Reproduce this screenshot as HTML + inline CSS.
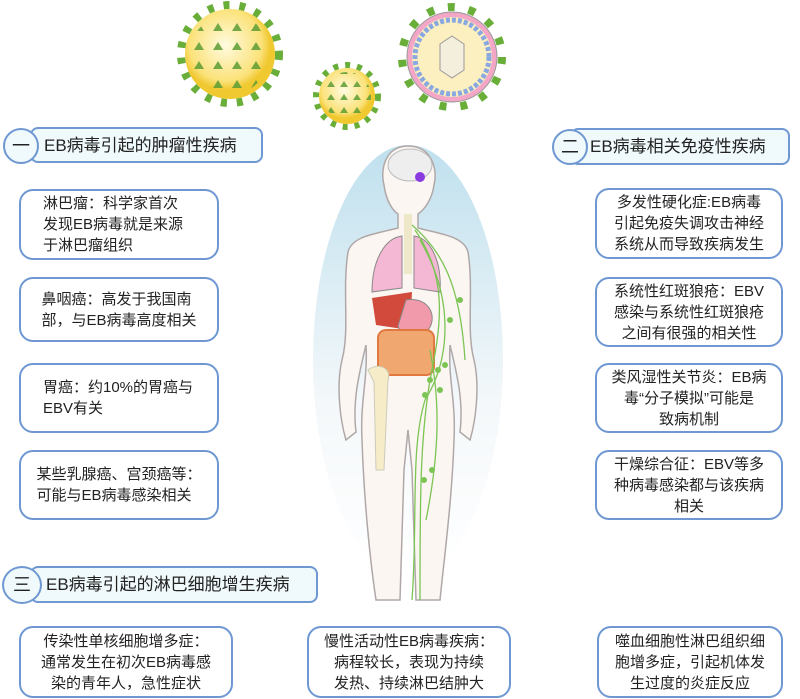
<!DOCTYPE html>
<html><head><meta charset="utf-8">
<style>
body{margin:0;width:800px;height:699px;background:#fff;position:relative;overflow:hidden;font-family:"Liberation Sans","Noto Sans CJK SC",sans-serif;color:#222}
.box{position:absolute;border:2px solid #6f98d2;border-radius:14px;background:#fff;box-sizing:border-box;display:flex;align-items:center;justify-content:center;text-align:center;font-size:15px;line-height:21px;padding:0 8px}
.hdr{position:absolute;border:2px solid #6f98d2;border-radius:8px;background:#f0f9fb;box-sizing:border-box;font-size:17px;line-height:33px;padding-left:12px}
.cir{position:absolute;border:2px solid #6f98d2;border-radius:50%;background:#f0f9fb;box-sizing:border-box;text-align:center;font-size:18px}
</style></head><body>
<svg width="800" height="699" style="position:absolute;left:0;top:0">
<defs>
<radialGradient id="yel" cx="45%" cy="40%"><stop offset="0" stop-color="#fffbe0"/><stop offset="0.8" stop-color="#fbe27a"/><stop offset="1" stop-color="#f0c830"/></radialGradient>
<pattern id="tri" width="19" height="19" patternUnits="userSpaceOnUse"><path d="M9 4 L14 12 L4 12Z" fill="#5c9c34"/></pattern>
<pattern id="tri2" width="13" height="13" patternUnits="userSpaceOnUse"><path d="M6 3 L10 9 L2 9Z" fill="#5c9c34"/></pattern>
<linearGradient id="glow" x1="0" y1="0" x2="0" y2="1"><stop offset="0" stop-color="#bfe0ee"/><stop offset="0.6" stop-color="#f4f8fa"/><stop offset="1" stop-color="#fff"/></linearGradient>
</defs>
<circle cx="230" cy="54" r="49" fill="none" stroke="#6aae3a" stroke-width="8" stroke-dasharray="6 10"/>
<circle cx="230" cy="54" r="45" fill="url(#yel)"/>
<circle cx="230" cy="54" r="40" fill="url(#tri)" opacity="0.85"/>
<circle cx="347" cy="96" r="31" fill="none" stroke="#6aae3a" stroke-width="6" stroke-dasharray="5 7"/>
<circle cx="347" cy="96" r="28" fill="url(#yel)"/>
<circle cx="347" cy="96" r="24" fill="url(#tri2)" opacity="0.85"/>
<circle cx="452" cy="57" r="50" fill="none" stroke="#6aae3a" stroke-width="8" stroke-dasharray="7 14"/>
<circle cx="452" cy="57" r="45" fill="#f4a6c6" stroke="#999" stroke-width="1"/>
<circle cx="452" cy="57" r="40" fill="#fdf0c0"/>
<circle cx="452" cy="57" r="37" fill="none" stroke="#8aa8e0" stroke-width="5" stroke-dasharray="4 2"/>
<path d="M452 36 L464 44 L464 70 L452 78 L440 70 L440 44Z" fill="#f4efdc" stroke="#999"/>
<ellipse cx="408" cy="360" rx="95" ry="215" fill="url(#glow)"/>
<path d="M408 146 C385 146 380 170 384 185 C386 200 392 210 398 214 L398 228 C375 234 352 236 348 252 C342 290 350 330 342 360 C336 385 340 420 346 440 L356 432 C352 400 360 370 366 345 C368 380 360 400 362 440 C364 500 370 560 376 600 L400 600 L404 470 L408 430 L412 470 L416 600 L440 600 C444 560 452 500 454 440 C456 400 448 380 450 345 C456 370 464 400 460 432 L470 440 C476 420 480 385 474 360 C466 330 474 290 468 252 C464 236 440 234 418 228 L418 214 C424 210 432 200 434 185 C438 170 432 146 408 146Z" fill="#fbf6f2" stroke="#b0a8a8" stroke-width="1.5"/>
<ellipse cx="410" cy="165" rx="22" ry="16" fill="#eee" stroke="#bbb"/>
<circle cx="420" cy="177" r="5" fill="#8a3be0"/>
<path d="M402 236 C385 238 372 260 372 292 L402 288Z" fill="#f4b8d4" stroke="#888"/>
<path d="M414 236 C430 238 442 260 440 292 L414 288Z" fill="#f4b8d4" stroke="#888"/>
<rect x="404" y="214" width="8" height="60" fill="#efe8c8"/>
<path d="M372 298 L412 292 L410 330 L376 325Z" fill="#d24a3c"/>
<path d="M406 300 C430 296 438 318 428 330 C418 340 400 336 398 326Z" fill="#f09aac" stroke="#888"/>
<rect x="378" y="330" width="56" height="45" rx="8" fill="#f0a870" stroke="#e07840" stroke-width="2"/>
<path d="M368 370 C378 362 392 368 388 380 L384 470 L376 470 L374 382 Z" fill="#f6ecc8" stroke="#ccb"/>
<g stroke="#7cc454" stroke-width="1.3" fill="none">
<path d="M412 225 C440 250 460 280 465 360"/><path d="M415 230 C450 280 440 330 430 380 C420 440 420 500 420 600"/>
<path d="M420 240 C455 300 450 360 425 400 C410 450 418 520 412 600"/><path d="M430 350 C440 400 440 450 426 520"/>
</g>
<g fill="#7cc454"><circle cx="438" cy="370" r="3"/><circle cx="430" cy="380" r="3"/><circle cx="445" cy="365" r="3"/><circle cx="425" cy="395" r="3"/><circle cx="440" cy="390" r="3"/><circle cx="432" cy="470" r="3"/><circle cx="424" cy="480" r="3"/><circle cx="460" cy="300" r="3"/><circle cx="450" cy="320" r="3"/></g>
</svg>

<div class="hdr" style="left:30px;top:127px;width:233px;height:36px;padding-left:12px">EB病毒引起的肿瘤性疾病</div>
<div class="cir" style="left:3px;top:128px;width:36px;height:36px;line-height:32px">一</div>
<div class="hdr" style="left:570px;top:128px;width:220px;height:37px;padding-left:18px">EB病毒相关免疫性疾病</div>
<div class="cir" style="left:552px;top:129px;width:36px;height:36px;line-height:32px">二</div>
<div class="hdr" style="left:30px;top:566px;width:288px;height:37px;padding-left:14px">EB病毒引起的淋巴细胞增生疾病</div>
<div class="cir" style="left:2px;top:566px;width:40px;height:38px;line-height:34px">三</div>

<div class="box" style="left:19px;top:189px;width:200px;height:71px;text-align:left;justify-content:flex-start;padding-left:22px">淋巴瘤：科学家首次<br>发现EB病毒就是来源<br>于淋巴瘤组织</div>
<div class="box" style="left:19px;top:277px;width:200px;height:65px;text-align:left">鼻咽癌：高发于我国南<br>部，与EB病毒高度相关</div>
<div class="box" style="left:19px;top:363px;width:200px;height:70px;text-align:left;justify-content:flex-start;padding-left:22px">胃癌：约10%的胃癌与<br>EBV有关</div>
<div class="box" style="left:19px;top:450px;width:200px;height:70px;text-align:left">某些乳腺癌、宫颈癌等：<br>可能与EB病毒感染相关</div>

<div class="box" style="left:595px;top:188px;width:188px;height:71px">多发性硬化症:EB病毒<br>引起免疫失调攻击神经<br>系统从而导致疾病发生</div>
<div class="box" style="left:595px;top:277px;width:188px;height:70px">系统性红斑狼疮：EBV<br>感染与系统性红斑狼疮<br>之间有很强的相关性</div>
<div class="box" style="left:595px;top:363px;width:188px;height:70px">类风湿性关节炎：EB病<br>毒“分子模拟”可能是<br>致病机制</div>
<div class="box" style="left:595px;top:450px;width:188px;height:70px">干燥综合征：EBV等多<br>种病毒感染都与该疾病<br>相关</div>

<div class="box" style="left:19px;top:626px;width:214px;height:72px">传染性单核细胞增多症：<br>通常发生在初次EB病毒感<br>染的青年人，急性症状</div>
<div class="box" style="left:307px;top:626px;width:204px;height:72px">慢性活动性EB病毒疾病：<br>病程较长，表现为持续<br>发热、持续淋巴结肿大</div>
<div class="box" style="left:597px;top:626px;width:186px;height:72px">噬血细胞性淋巴组织细<br>胞增多症，引起机体发<br>生过度的炎症反应</div>
</body></html>
